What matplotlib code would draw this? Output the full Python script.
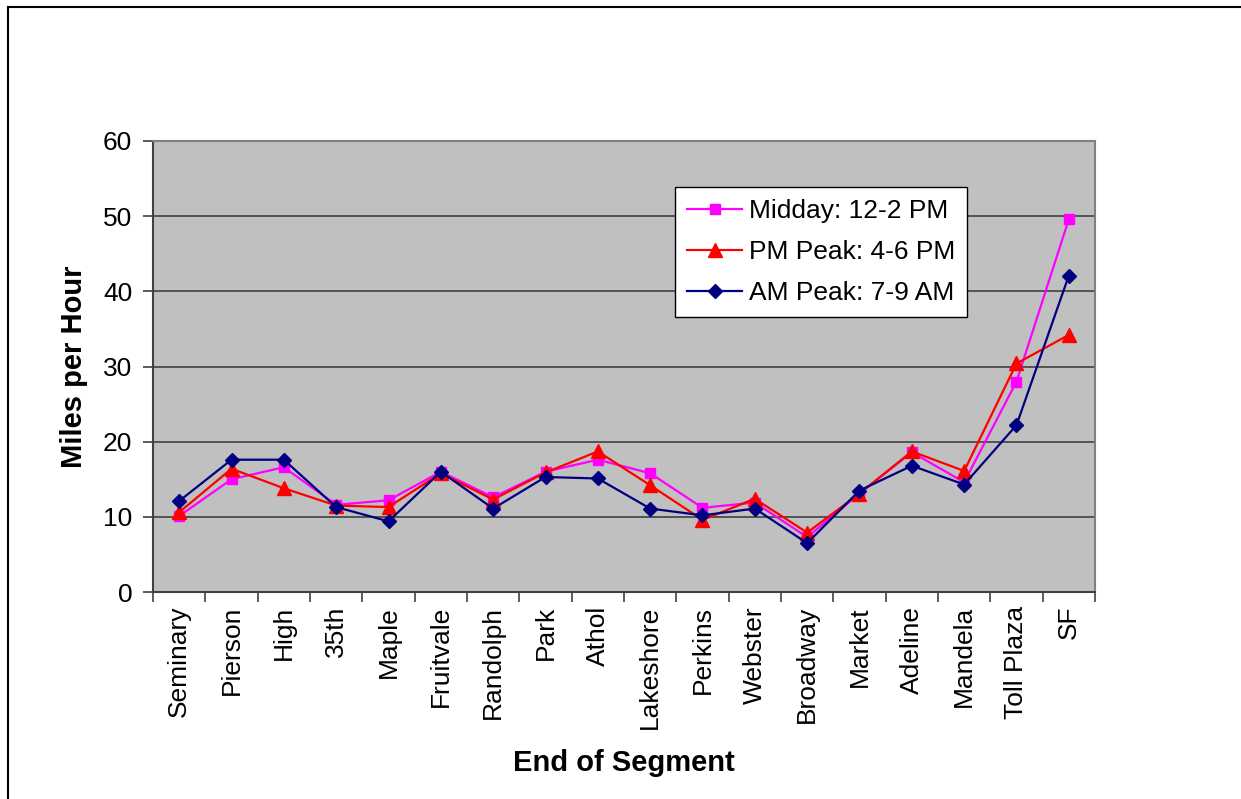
import matplotlib
matplotlib.use("Agg")
import matplotlib.pyplot as plt
from matplotlib.lines import Line2D
import numpy as np

plt.rcParams['font.family'] = ['Liberation Sans', 'DejaVu Sans']

segments = ["Seminary", "Pierson", "High", "35th", "Maple", "Fruitvale",
            "Randolph", "Park", "Athol", "Lakeshore", "Perkins", "Webster",
            "Broadway", "Market", "Adeline", "Mandela", "Toll Plaza", "SF"]

midday = [10.1, 15.0, 16.6, 11.6, 12.2, 16.0, 12.6, 16.0, 17.6, 15.8,
          11.2, 11.9, 7.3, 13.1, 18.6, 14.6, 28.0, 49.6]
pm_peak = [10.6, 16.4, 13.8, 11.5, 11.3, 15.8, 12.3, 15.9, 18.7, 14.2,
           9.6, 12.4, 7.9, 13.1, 18.7, 16.1, 30.4, 34.2]
am_peak = [12.1, 17.6, 17.6, 11.3, 9.4, 16.0, 11.1, 15.3, 15.1, 11.1,
           10.2, 11.1, 6.5, 13.5, 16.8, 14.3, 22.2, 42.1]

fig = plt.figure(figsize=(12.41, 7.99), dpi=100)
ax = fig.add_axes([153 / 1241, 1 - 592 / 799, 942 / 1241, 451 / 799])
ax.set_facecolor('#C0C0C0')

x = np.arange(len(segments))
ax.plot(x, midday, color='#FF00FF', marker='s', markersize=7.5, lw=1.6,
        label='Midday: 12-2 PM', zorder=3)
ax.plot(x, pm_peak, color='#FF0000', marker='^', markersize=10.5, lw=1.6,
        label='PM Peak: 4-6 PM', zorder=4)
ax.plot(x, am_peak, color='#000080', marker='D', markersize=7.5, lw=1.6,
        label='AM Peak: 7-9 AM', zorder=5)

ax.set_xlim(-0.5, len(segments) - 0.5)
ax.set_ylim(0, 60)
ax.set_yticks(range(0, 61, 10))
ax.yaxis.grid(True, color='#404040', lw=1.2)
ax.set_axisbelow(True)

# category labels centred, tick marks between categories
ax.set_xticks(x)
ax.set_xticklabels(segments, rotation=90)
ax.set_xticks(np.arange(-0.5, len(segments)), minor=True)
ax.tick_params(axis='x', which='major', length=0, pad=10, labelsize=19)
ax.tick_params(axis='x', which='minor', length=7, width=1.2, color='#404040')
ax.tick_params(axis='y', length=7, width=1.2, color='#404040', labelsize=19, pad=8)

for side in ['left', 'bottom']:
    ax.spines[side].set_color('#404040')
    ax.spines[side].set_linewidth(1.5)
for side in ['top', 'right']:
    ax.spines[side].set_color('#808080')
    ax.spines[side].set_linewidth(1.5)

ax.set_ylabel('Miles per Hour', fontsize=21, fontweight='bold', labelpad=11)
ax.set_xlabel('End of Segment', fontsize=21, fontweight='bold', labelpad=14)

leg = ax.legend(loc='upper left', bbox_to_anchor=(675 / 1241, 1 - 187 / 799),
                bbox_transform=fig.transFigure, fontsize=19, frameon=True,
                fancybox=False, edgecolor='black', framealpha=1,
                borderpad=0.45, labelspacing=0.65, handlelength=2.1,
                handletextpad=0.25, borderaxespad=0)
leg.get_frame().set_linewidth(1.0)

# outer chart border
fig.add_artist(Line2D([8 / 1241, 8 / 1241], [0, 1 - 7 / 799],
                      transform=fig.transFigure, color='black', lw=1.5))
fig.add_artist(Line2D([8 / 1241, 1], [1 - 7 / 799, 1 - 7 / 799],
                      transform=fig.transFigure, color='black', lw=1.5))

fig.savefig('out.png', dpi=100)
